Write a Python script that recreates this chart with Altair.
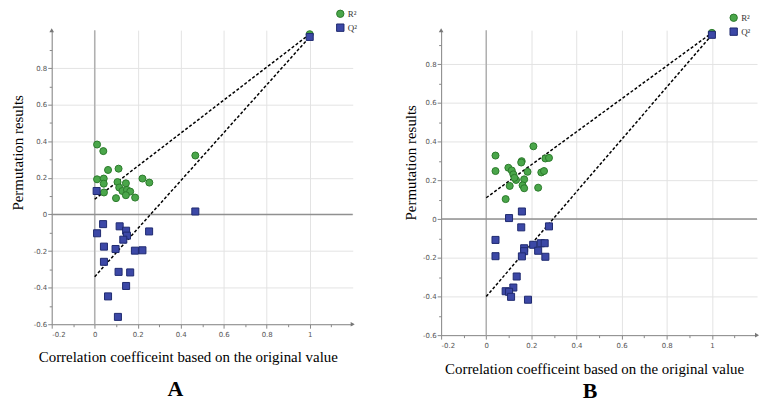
import altair as alt
import pandas as pd

# ---------------- data ----------------
SERIES = ["R²", "Q²"]

a_r2_x = [0.011, 0.040, 0.062, 0.111, 0.011, 0.042, 0.042, 0.043, 0.106, 0.145,
          0.114, 0.129, 0.150, 0.165, 0.145, 0.188, 0.099, 0.222, 0.254, 0.468, 1.0]
a_r2_y = [0.382, 0.346, 0.243, 0.250, 0.192, 0.196, 0.168, 0.120, 0.177, 0.170,
          0.147, 0.128, 0.134, 0.125, 0.105, 0.092, 0.089, 0.196, 0.174, 0.322, 0.985]
a_q2_x = [0.468, 0.039, 0.011, 0.116, 0.146, 0.150, 0.133, 0.253, 0.043, 0.097,
          0.187, 0.222, 0.043, 0.111, 0.165, 0.146, 0.062, 0.108, 0.009, 1.0]
a_q2_y = [0.016, -0.053, -0.103, -0.065, -0.089, -0.116, -0.138, -0.093, -0.176, -0.189,
          -0.198, -0.196, -0.259, -0.314, -0.317, -0.391, -0.448, -0.560, 0.128, 0.970]
a_line_r2 = [0.083, 0.985]
a_line_q2 = [-0.340, 0.970]

b_r2_x = [0.041, 0.041, 0.086, 0.098, 0.113, 0.120, 0.132, 0.125, 0.104, 0.157,
          0.155, 0.168, 0.161, 0.168, 0.183, 0.209, 0.230, 0.244, 0.256, 0.262, 0.278, 1.0]
b_r2_y = [0.328, 0.248, 0.103, 0.265, 0.251, 0.231, 0.202, 0.213, 0.171, 0.299,
          0.292, 0.205, 0.174, 0.159, 0.244, 0.376, 0.162, 0.241, 0.248, 0.313, 0.316, 0.962]
b_q2_x = [0.101, 0.158, 0.155, 0.278, 0.041, 0.041, 0.168, 0.168, 0.208, 0.242,
          0.259, 0.230, 0.158, 0.262, 0.135, 0.120, 0.086, 0.101, 0.110, 0.185, 1.0]
b_q2_y = [0.005, 0.039, -0.043, -0.038, -0.108, -0.192, -0.151, -0.166, -0.133, -0.125,
          -0.125, -0.164, -0.193, -0.195, -0.297, -0.354, -0.373, -0.376, -0.402, -0.417, 0.952]
b_line_r2 = [0.110, 0.962]
b_line_q2 = [-0.400, 0.952]

line_x = [0.0, 1.0]

X_TICKS = [-0.2, -0.1, 0, 0.1, 0.2, 0.3, 0.4, 0.5, 0.6, 0.7, 0.8, 0.9, 1, 1.1]
Y_TICKS = [-0.6, -0.5, -0.4, -0.3, -0.2, -0.1, 0, 0.1, 0.2, 0.3, 0.4, 0.5, 0.6, 0.7, 0.8, 0.9]
X_TITLE = "Correlation coefficeint based on the original value"
Y_TITLE = "Permutation results"

GREEN, GREEN_DARK = "#4aa64a", "#2b7a2b"
BLUE, BLUE_DARK = "#3c48a6", "#1f2a70"

MAJOR = "abs(round(datum.value*10)) % 2 == 0"
LABEL = MAJOR + " ? '' + datum.value : ''"
GRID_OP = {"condition": {"test": MAJOR, "value": 1}, "value": 0}
TICK_SZ = {"condition": {"test": MAJOR, "value": 4}, "value": 2.5}


def panel(r2x, r2y, q2x, q2y, l_r2, l_q2, w, h, ytop, leg_x, leg_y,
          yt_x, yt_y, xt_x, xt_y, letter, letter_dx, letter_off):
    pts = pd.DataFrame({"x": r2x + q2x, "y": r2y + q2y,
                        "series": [SERIES[0]] * len(r2x) + [SERIES[1]] * len(q2x)})
    lines = pd.DataFrame({"x": line_x + line_x, "y": l_r2 + l_q2,
                          "series": [SERIES[0]] * 2 + [SERIES[1]] * 2})
    xaxis = alt.Axis(values=X_TICKS, labelExpr=LABEL, gridOpacity=GRID_OP, tickSize=TICK_SZ,
                     title=X_TITLE, titleX=xt_x, titleY=xt_y, titleBaseline="middle",
                     titleAlign="center", labelPadding=2)
    yaxis = alt.Axis(values=Y_TICKS, labelExpr=LABEL, gridOpacity=GRID_OP, tickSize=TICK_SZ,
                     title=Y_TITLE, titleX=yt_x, titleY=yt_y, titleBaseline="middle",
                     titleAlign="center", titleAngle=270, labelPadding=1)
    X = alt.X("x:Q", scale=alt.Scale(domain=[-0.2, 1.2], nice=False, zero=False), axis=xaxis)
    Y = alt.Y("y:Q", scale=alt.Scale(domain=[-0.6, ytop], nice=False, zero=False), axis=yaxis)

    zero_v = alt.Chart(pd.DataFrame({"x": [0.0]})).mark_rule(color="#b0b0b0", strokeWidth=1.5).encode(x=X)
    zero_h = alt.Chart(pd.DataFrame({"y": [0.0]})).mark_rule(color="#909090", strokeWidth=1.5).encode(y=Y)
    dashed = alt.Chart(lines).mark_line(color="black", strokeDash=[3, 2], strokeWidth=1.5).encode(
        x=X, y=Y, detail="series:N")
    legend = alt.Legend(orient="none", legendX=leg_x, legendY=leg_y, title=None,
                        labelFont="Liberation Serif", labelFontSize=9, labelColor="#333",
                        symbolSize=55, symbolStrokeColor="#2a3a5a", symbolStrokeWidth=1,
                        padding=0, rowPadding=1, labelOffset=3)
    points = alt.Chart(pts).mark_point(filled=True, opacity=1, size=50, strokeWidth=1).encode(
        x=X, y=Y,
        color=alt.Color("series:N", scale=alt.Scale(domain=SERIES, range=[GREEN, BLUE]), legend=legend),
        shape=alt.Shape("series:N", scale=alt.Scale(domain=SERIES, range=["circle", "square"]), legend=legend),
        stroke=alt.Stroke("series:N", scale=alt.Scale(domain=SERIES, range=[GREEN_DARK, BLUE_DARK]), legend=None),
    )
    arrow_up = alt.Chart(pd.DataFrame({"x": [-0.2], "y": [ytop]})).mark_point(
        shape="triangle-up", filled=True, color="#777", size=22, opacity=1).encode(x=X, y=Y)
    arrow_right = alt.Chart(pd.DataFrame({"x": [1.2], "y": [-0.6]})).mark_point(
        shape="triangle-right", filled=True, color="#777", size=22, opacity=1).encode(x=X, y=Y)

    return alt.layer(zero_v, zero_h, dashed, points, arrow_up, arrow_right).properties(
        width=w, height=h,
        title=alt.TitleParams(letter, orient="bottom", anchor="middle", frame="group",
                              dx=letter_dx, offset=letter_off, font="Liberation Serif",
                              fontSize=22, fontWeight="bold", color="black"),
    )


A = panel(a_r2_x, a_r2_y, a_q2_x, a_q2_y, a_line_r2, a_line_q2,
          w=303, h=296, ytop=1.007, leg_x=286, leg_y=-21,
          yt_x=-34, yt_y=123, xt_x=137, xt_y=33, letter="A", letter_dx=-27, letter_off=14)
B = panel(b_r2_x, b_r2_y, b_q2_x, b_q2_y, b_line_r2, b_line_q2,
          w=318, h=307, ytop=0.976, leg_x=290, leg_y=-17,
          yt_x=-31, yt_y=133, xt_x=154, xt_y=34, letter="B", letter_dx=-9, letter_off=4)

chart = alt.hconcat(A, B, spacing=46).resolve_legend(
    color="independent", shape="independent").resolve_scale(
    color="independent", shape="independent", stroke="independent").properties(
    padding={"left": 3, "top": 0, "right": 0, "bottom": 0}
).configure_view(stroke=None).configure_axis(
    labelFont="DejaVu Sans", labelFontSize=7, labelColor="#555",
    tickColor="#888", domainColor="#888", gridColor="#e3e3e3",
    titleFont="Liberation Serif", titleFontSize=15, titleFontWeight="normal", titleColor="black",
).configure_concat(spacing=46)

chart.save("out.html", embed_options={"renderer": "svg", "actions": False})
